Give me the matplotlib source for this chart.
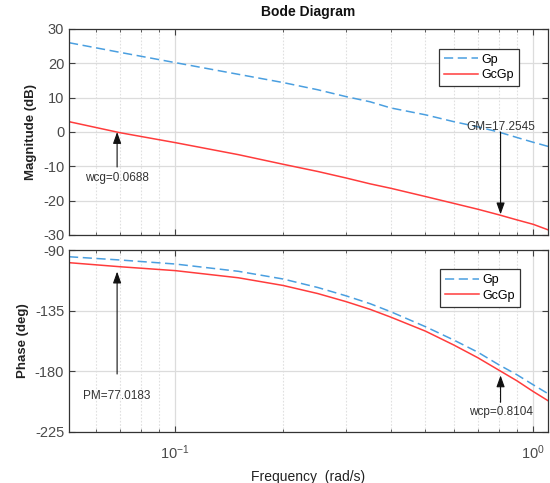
import matplotlib
matplotlib.use("Agg")
import matplotlib.pyplot as plt
from matplotlib.ticker import FixedLocator, NullFormatter, LogLocator

plt.rcParams['font.family'] = ['Liberation Sans', 'DejaVu Sans']
plt.rcParams['mathtext.fontset'] = 'custom'
plt.rcParams['mathtext.rm'] = 'Liberation Sans'
plt.rcParams['mathtext.it'] = 'Liberation Sans:italic'
plt.rcParams['mathtext.bf'] = 'Liberation Sans:bold'
plt.rcParams['axes.unicode_minus'] = False

# ---- data ----
freq = [0.0505, 0.07, 0.1, 0.15, 0.2, 0.25, 0.3, 0.35, 0.4, 0.5, 0.6, 0.7, 0.8, 0.9, 1.0, 1.1]
gp_mag = [26.0, 23.2, 20.2, 16.8, 14.4, 12.3, 10.3, 8.8, 7.0, 5.0, 3.0, 1.5, 0.0, -1.6, -3.0, -4.2]
gcgp_mag = [3.0, -0.2, -3.1, -6.6, -9.4, -11.5, -13.4, -15.1, -16.4, -18.8, -20.8, -22.5, -24.1, -25.6, -26.9, -28.5]
gp_phase = [-95.0, -97.4, -100.4, -105.8, -111.5, -117.8, -124.0, -129.8, -135.8, -146.9, -156.8, -165.8, -175.0, -182.5, -190.0, -196.6]
gcgp_phase = [-99.4, -102.4, -105.3, -110.6, -116.3, -122.3, -128.3, -134.0, -139.8, -150.2, -160.5, -169.9, -179.0, -187.0, -195.0, -201.8]
series_names = ['Gp', 'GcGp']
mag_ticks = [-30, -20, -10, 0, 10, 20, 30]
phase_ticks = [-225, -180, -135, -90]
x_ticks = [0.1, 1.0]
x_ticklabels = [r'$10^{-1}$', r'$10^{0}$']
wcg = 0.0688
wcp = 0.8104
gm_text = 'GM=17.2545'
pm_text = 'PM=77.0183'
wcg_text = 'wcg=0.0688'
wcp_text = 'wcp=0.8104'

blue = '#4a9fe0'
red = '#ff3c3c'
txtc = '#333333'
tickc = '#4a4a4a'

fig = plt.figure(figsize=(5.5, 4.83), dpi=100)
ax1 = fig.add_axes([0.1255, 0.5135, 0.871, 0.4265])
ax2 = fig.add_axes([0.1255, 0.1056, 0.871, 0.3768])

for ax in (ax1, ax2):
    ax.set_xscale('log')
    ax.set_xlim(0.0505, 1.1)
    ax.xaxis.set_major_locator(FixedLocator(x_ticks))
    ax.xaxis.set_minor_locator(LogLocator(base=10, subs=range(2, 10)))
    ax.xaxis.set_minor_formatter(NullFormatter())
    ax.tick_params(which='both', direction='in', top=True, right=True,
                   colors='#404040', labelcolor=tickc, labelsize=10.5)
    ax.tick_params(which='major', length=4, width=0.8)
    ax.tick_params(which='minor', length=2.5, width=0.6)
    ax.grid(True, which='major', color='#dcdcdc', lw=0.9, ls='-')
    ax.grid(True, which='minor', axis='x', color='#e0e0e0', lw=0.8, ls=(0, (1.5, 1.5)))
    ax.set_axisbelow(True)
    for s in ax.spines.values():
        s.set_color('#333333')
        s.set_linewidth(0.9)

# magnitude
ax1.plot(freq, gp_mag, color=blue, lw=1.1, ls=(0, (6, 3)), label=series_names[0])
ax1.plot(freq, gcgp_mag, color=red, lw=1.1, label=series_names[1])
ax1.set_ylim(-30, 30)
ax1.set_yticks(mag_ticks)
ax1.set_xticklabels([])
ax1.set_ylabel('Magnitude (dB)', fontsize=9.5, fontweight='bold', color='#222222', labelpad=4)
leg1 = ax1.legend(loc='upper right', bbox_to_anchor=(0.953, 0.935), fontsize=9,
                  handlelength=2.7, fancybox=False, framealpha=1, borderpad=0.4,
                  labelspacing=0.3, handletextpad=0.3)
leg1.get_frame().set_edgecolor('#333333')
leg1.get_frame().set_linewidth(0.9)

ax1.annotate('', xy=(wcg, 0), xytext=(wcg, -10.2),
             arrowprops=dict(arrowstyle='-|>,head_length=0.7,head_width=0.25',
                             color='#111111', lw=0.8, shrinkA=0, shrinkB=0))
ax1.text(wcg, -13.4, wcg_text, ha='center', va='center', fontsize=8.5, color=txtc)
ax1.annotate('', xy=(wcp, -24.0), xytext=(wcp, 0),
             arrowprops=dict(arrowstyle='-|>,head_length=0.7,head_width=0.25',
                             color='#111111', lw=0.8, shrinkA=0, shrinkB=0))
ax1.text(wcp, 1.5, gm_text, ha='center', va='center', fontsize=8.5, color=txtc)

# phase
ax2.plot(freq, gp_phase, color=blue, lw=1.1, ls=(0, (6, 3)), label=series_names[0])
ax2.plot(freq, gcgp_phase, color=red, lw=1.1, label=series_names[1])
ax2.set_ylim(-225, -90)
ax2.set_yticks(phase_ticks)
ax2.set_xticklabels(x_ticklabels)
ax2.tick_params(axis='x', which='major', pad=8)
ax2.set_ylabel('Phase (deg)', fontsize=9.5, fontweight='bold', color='#222222', labelpad=4)
ax2.set_xlabel('Frequency  (rad/s)', fontsize=10, color='#222222', labelpad=6)
leg2 = ax2.legend(loc='upper right', bbox_to_anchor=(0.955, 0.93), fontsize=9,
                  handlelength=2.7, fancybox=False, framealpha=1, borderpad=0.4,
                  labelspacing=0.3, handletextpad=0.3)
leg2.get_frame().set_edgecolor('#333333')
leg2.get_frame().set_linewidth(0.9)

ax2.annotate('', xy=(wcg, -106), xytext=(wcg, -182),
             arrowprops=dict(arrowstyle='-|>,head_length=0.7,head_width=0.25',
                             color='#111111', lw=0.8, shrinkA=0, shrinkB=0))
ax2.text(wcg, -198, pm_text, ha='center', va='center', fontsize=8.5, color=txtc)
ax2.annotate('', xy=(wcp, -183), xytext=(wcp, -203),
             arrowprops=dict(arrowstyle='-|>,head_length=0.7,head_width=0.25',
                             color='#111111', lw=0.8, shrinkA=0, shrinkB=0))
ax2.text(wcp, -210.5, wcp_text, ha='center', va='center', fontsize=8.5, color=txtc)

fig.text(0.5609, 0.975, 'Bode Diagram', ha='center', va='center',
         fontsize=10, fontweight='bold', color='#111111')

fig.savefig('out.png', dpi=100)
